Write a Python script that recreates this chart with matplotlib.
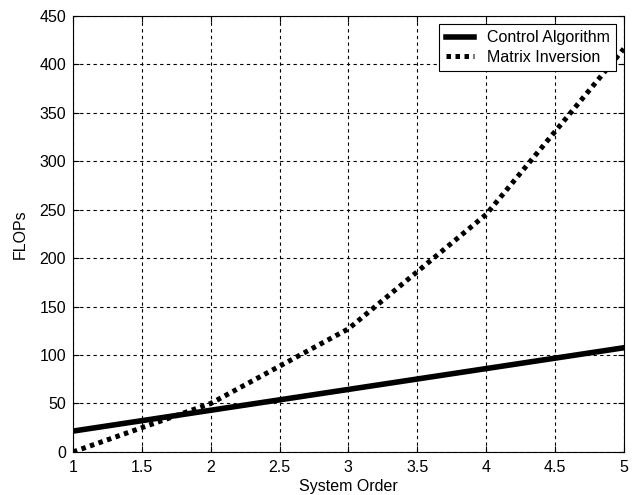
import matplotlib
matplotlib.use("Agg")
import matplotlib.pyplot as plt

# System order vs FLOPs
order = [1, 2, 3, 4, 5]
control_flops = [21.5, 43, 64.5, 86, 107.5]
inversion_flops = [0, 50, 127, 245, 416]

plt.rcParams['font.family'] = ['Liberation Sans', 'DejaVu Sans']

fig = plt.figure(figsize=(6.32, 4.95), dpi=100)
ax = fig.add_axes([0.1155, 0.087, 0.8715, 0.881])

ax.plot(order, control_flops, color='black', linewidth=4, label='Control Algorithm')
ax.plot(order, inversion_flops, color='black', linewidth=3.6, linestyle=(0, (0.9, 0.9)),
        label='Matrix Inversion')

ax.set_xlim(1, 5)
ax.set_ylim(0, 450)
ax.set_xticks([1, 1.5, 2, 2.5, 3, 3.5, 4, 4.5, 5])
ax.set_xticklabels(['1', '1.5', '2', '2.5', '3', '3.5', '4', '4.5', '5'])
ax.set_yticks(range(0, 451, 50))

ax.grid(True, color='black', linestyle=(0, (3, 3)), linewidth=0.8)
ax.tick_params(direction='in', top=True, right=True, labelsize=11.5, length=4)
ax.tick_params(axis='x', pad=6)
ax.tick_params(axis='y', pad=5)
for s in ax.spines.values():
    s.set_linewidth(0.8)

ax.set_xlabel('System Order', fontsize=11.5, labelpad=3)
ax.set_ylabel('FLOPs', fontsize=11.5, labelpad=8)

leg = ax.legend(loc='upper right', fontsize=11.5, fancybox=False, framealpha=1,
                edgecolor='black', handlelength=1.75, handletextpad=0.8,
                borderaxespad=0.5, borderpad=0.4, labelspacing=0.3)
leg.get_frame().set_linewidth(0.8)

fig.savefig('out.png', dpi=100)
